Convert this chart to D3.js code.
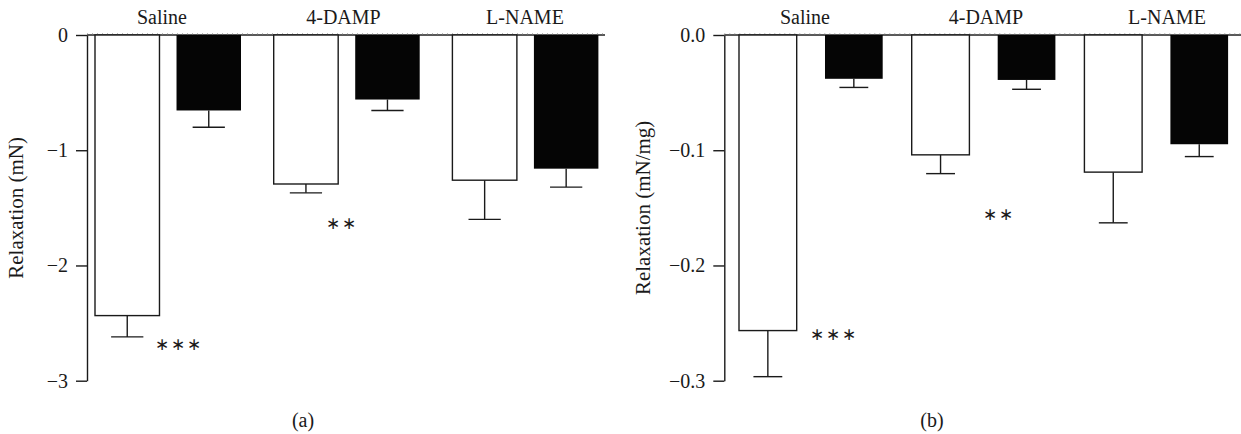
<!DOCTYPE html>
<html>
<head>
<meta charset="utf-8">
<script src="https://cdn.jsdelivr.net/npm/d3@7"></script>
<style>
    body { margin: 0; background: #fff; }
    svg { display: block; }
    text { font-family: "Liberation Serif", "Times New Roman", serif; fill: #1a1a1a; }
</style>
</head>
<body>
<script>
"use strict";

const WIDTH = 1241
const HEIGHT = 434

// data
const groups = ["Saline", "4-DAMP", "L-NAME"]
const series = ["open", "filled"]

// (a) relaxation in mN
const forceOpen = [-2.435, -1.293, -1.26]
const forceOpenErr = [0.185, 0.077, 0.34]
const forceFilled = [-0.655, -0.56, -1.16]
const forceFilledErr = [0.145, 0.095, 0.16]
const forceTicks = [0, -1, -2, -3]
const forceStars = ["∗∗∗", "∗∗", ""]

// (b) relaxation in mN/mg
const weightOpen = [-0.2565, -0.104, -0.119]
const weightOpenErr = [0.040, 0.0163, 0.044]
const weightFilled = [-0.038, -0.039, -0.0948]
const weightFilledErr = [0.0075, 0.0081, 0.0107]
const weightTicks = [0, -0.1, -0.2, -0.3]
const weightStars = ["∗∗∗", "∗∗", ""]

const svg = d3.select("body").append("svg")
    .attr("width", WIDTH)
    .attr("height", HEIGHT)

function drawPanel(p) {
    const g = svg.append("g")

    const y = d3.scaleLinear()
        .domain([0, p.ticks[p.ticks.length - 1]])
        .range([35, 380.7])

    const x = d3.scaleBand()
        .domain(groups)
        .range(p.xRange)
        .paddingInner(p.groupPad)
        .paddingOuter(0)

    const xs = d3.scaleBand()
        .domain(series)
        .range([0, x.bandwidth()])
        .paddingInner(p.barPad)
        .paddingOuter(0)

    const xLabel = d3.scalePoint()
        .domain(groups)
        .range(p.labelRange)

    const rows = []
    groups.forEach((grp, i) => {
        rows.push({ grp, s: "open", v: p.open[i], e: p.openErr[i] })
        rows.push({ grp, s: "filled", v: p.filled[i], e: p.filledErr[i] })
    })

    // zero line
    g.append("line")
        .attr("x1", p.axisX)
        .attr("x2", p.zeroEnd)
        .attr("y1", y(0))
        .attr("y2", y(0))
        .attr("stroke", "#222")
        .attr("stroke-width", 1.4)
    g.append("line")
        .attr("x1", p.axisX)
        .attr("x2", p.zeroEnd)
        .attr("y1", y(0) - 1.2)
        .attr("y2", y(0) - 1.2)
        .attr("stroke", "#999")
        .attr("stroke-width", 1)
        .attr("stroke-dasharray", "1,4")

    // error bars (one sided, away from zero)
    const err = g.selectAll(".err").data(rows).join("g")
        .attr("class", "err")
        .attr("stroke", "#1a1a1a")
        .attr("stroke-width", 1.4)
    err.append("line")
        .attr("x1", d => x(d.grp) + xs(d.s) + xs.bandwidth() / 2)
        .attr("x2", d => x(d.grp) + xs(d.s) + xs.bandwidth() / 2)
        .attr("y1", d => y(d.v))
        .attr("y2", d => y(d.v - d.e))
    err.append("line")
        .attr("x1", d => x(d.grp) + xs(d.s) + xs.bandwidth() / 4)
        .attr("x2", d => x(d.grp) + xs(d.s) + xs.bandwidth() * 3 / 4)
        .attr("y1", d => y(d.v - d.e))
        .attr("y2", d => y(d.v - d.e))

    // bars
    g.selectAll(".bar").data(rows).join("rect")
        .attr("class", "bar")
        .attr("x", d => x(d.grp) + xs(d.s))
        .attr("width", xs.bandwidth())
        .attr("y", y(0))
        .attr("height", d => y(d.v) - y(0))
        .attr("fill", d => d.s == "open" ? "#fff" : "#050505")
        .attr("stroke", d => d.s == "open" ? "#1a1a1a" : "none")
        .attr("stroke-width", 1.4)

    // y axis
    const axis = g.append("g")
        .attr("transform", `translate(${p.axisX},0)`)
        .call(d3.axisLeft(y)
            .tickValues(p.ticks)
            .tickFormat(p.fmt)
            .tickSize(11)
            .tickSizeOuter(0)
            .tickPadding(8))
    axis.select(".domain").attr("stroke", "#1a1a1a").attr("stroke-width", 1.4)
    axis.selectAll(".tick line").attr("stroke", "#1a1a1a").attr("stroke-width", 1.4)
    axis.selectAll(".tick text")
        .attr("font-size", 20)
        .attr("font-family", "Liberation Serif")
        .attr("fill", "#1a1a1a")

    // group labels on top
    g.selectAll(".grp").data(groups).join("text")
        .attr("class", "grp")
        .attr("x", d => xLabel(d))
        .attr("y", 24)
        .attr("text-anchor", "middle")
        .attr("font-size", 20)
        .text(d => d)

    // significance marks
    g.selectAll(".star").data(groups.map((grp, i) => ({ grp, t: p.stars[i], v: p.starY[i] })))
        .join("text")
        .attr("class", "star")
        .attr("x", d => x(d.grp) + x.bandwidth() / 2 + p.starDx[groups.indexOf(d.grp)])
        .attr("y", d => y(d.v))
        .attr("dy", "0.35em")
        .attr("text-anchor", "middle")
        .attr("font-size", 17)
        .attr("letter-spacing", 2)
        .text(d => d.t)

    // y title
    g.append("text")
        .attr("transform", `translate(${p.titleX},${(y.range()[0] + y.range()[1]) / 2}) rotate(-90)`)
        .attr("text-anchor", "middle")
        .attr("font-size", 21)
        .text(p.title)

    // panel tag
    g.append("text")
        .attr("x", p.tagX)
        .attr("y", 427)
        .attr("text-anchor", "middle")
        .attr("font-size", 20)
        .text(p.tag)
}

drawPanel({
    open: forceOpen, openErr: forceOpenErr,
    filled: forceFilled, filledErr: forceFilledErr,
    ticks: forceTicks, fmt: d3.format("d"),
    stars: forceStars, starY: [-2.68, -1.63, 0], starDx: [11, -5, 0],
    axisX: 87, zeroEnd: 605,
    xRange: [95, 598.4], groupPad: 0.183, barPad: 0.209,
    labelRange: [162, 525],
    title: "Relaxation (mN)", titleX: 23,
    tag: "(a)", tagX: 303
})

drawPanel({
    open: weightOpen, openErr: weightOpenErr,
    filled: weightFilled, filledErr: weightFilledErr,
    ticks: weightTicks, fmt: d3.format(".1f"),
    stars: weightStars, starY: [-0.2595, -0.1555, 0], starDx: [23, 15, 0],
    axisX: 724.3, zeroEnd: 1241,
    xRange: [739, 1228.1], groupPad: 0.168, barPad: 0.329,
    labelRange: [805, 1167],
    title: "Relaxation (mN/mg)", titleX: 650,
    tag: "(b)", tagX: 932
})
</script>
</body>
</html>
